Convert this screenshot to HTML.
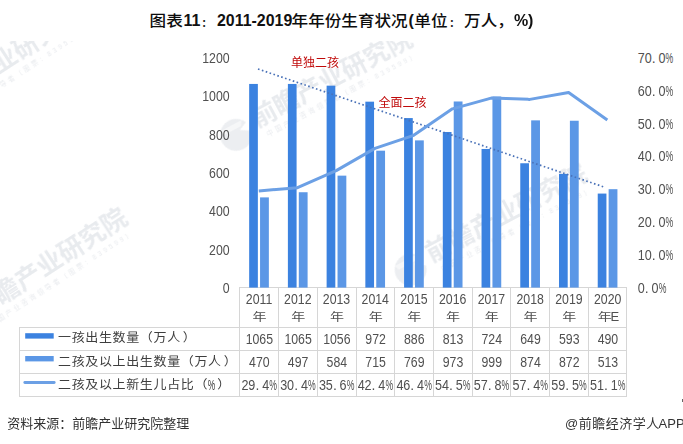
<!DOCTYPE html>
<html><head><meta charset="utf-8"><title>图表11</title>
<style>
html,body{margin:0;padding:0;background:#fff;}
body{width:683px;height:444px;overflow:hidden;}
svg{display:block;}
</style></head><body>
<svg width="683" height="444" viewBox="0 0 683 444">
<defs><clipPath id="wc"><rect x="0" y="41" width="683" height="283"/></clipPath></defs>
<g clip-path="url(#wc)" opacity="0.4"><g transform="translate(-69,118) rotate(-33)"><path d="M-3 -10 A16 16 0 1 0 -2 0 L-12 -6 Z" fill="#C6CCD5" fill-opacity="0.8"/><path d="M-30 -14 L-6 -14 L-9 -9 L-28 -9 Z" fill="#fff" fill-opacity="0.5"/><text x="4" y="0" font-size="25.5" font-weight="bold" font-family="Liberation Sans, Noto Sans CJK SC, sans-serif" fill="#C6CCD5">前瞻产业研究院</text><text x="10" y="12.5" font-size="6.5" letter-spacing="2.9" font-family="Liberation Sans, Noto Sans CJK SC, sans-serif" fill="#C6CCD5">中国产业咨询领导者（股票：839599）</text></g><g transform="translate(-23.8,321.2) rotate(-33)"><path d="M-3 -10 A16 16 0 1 0 -2 0 L-12 -6 Z" fill="#C6CCD5" fill-opacity="0.8"/><path d="M-30 -14 L-6 -14 L-9 -9 L-28 -9 Z" fill="#fff" fill-opacity="0.5"/><text x="4" y="0" font-size="25.5" font-weight="bold" font-family="Liberation Sans, Noto Sans CJK SC, sans-serif" fill="#C6CCD5">前瞻产业研究院</text><text x="10" y="12.5" font-size="6.5" letter-spacing="2.9" font-family="Liberation Sans, Noto Sans CJK SC, sans-serif" fill="#C6CCD5">中国产业咨询领导者（股票：839599）</text></g></g>
<g clip-path="url(#wc)" opacity="0.4"><g transform="translate(253.3,129.7) rotate(-28)"><path d="M-3 -10 A16 16 0 1 0 -2 0 L-12 -6 Z" fill="#C6CCD5" fill-opacity="0.8"/><path d="M-30 -14 L-6 -14 L-9 -9 L-28 -9 Z" fill="#fff" fill-opacity="0.5"/><text x="4" y="0" font-size="25.5" font-weight="bold" font-family="Liberation Sans, Noto Sans CJK SC, sans-serif" fill="#C6CCD5">前瞻产业研究院</text><text x="10" y="12.5" font-size="6.5" letter-spacing="2.9" font-family="Liberation Sans, Noto Sans CJK SC, sans-serif" fill="#C6CCD5">中国产业咨询领导者（股票：839599）</text></g><g transform="translate(427.8,264.4) rotate(-28)"><path d="M-3 -10 A16 16 0 1 0 -2 0 L-12 -6 Z" fill="#C6CCD5" fill-opacity="0.8"/><path d="M-30 -14 L-6 -14 L-9 -9 L-28 -9 Z" fill="#fff" fill-opacity="0.5"/><text x="4" y="0" font-size="25.5" font-weight="bold" font-family="Liberation Sans, Noto Sans CJK SC, sans-serif" fill="#C6CCD5">前瞻产业研究院</text><text x="10" y="12.5" font-size="6.5" letter-spacing="2.9" font-family="Liberation Sans, Noto Sans CJK SC, sans-serif" fill="#C6CCD5">中国产业咨询领导者（股票：839599）</text></g></g>
<g fill="#D6D6D6"><rect x="239" y="287" width="388" height="1"/><rect x="19" y="327" width="608" height="1"/><rect x="19" y="350" width="608" height="1"/><rect x="19" y="373" width="608" height="1"/><rect x="19" y="396" width="608" height="1"/><rect x="239" y="287" width="1" height="110"/><rect x="278" y="287" width="1" height="110"/><rect x="317" y="287" width="1" height="110"/><rect x="356" y="287" width="1" height="110"/><rect x="394" y="287" width="1" height="110"/><rect x="433" y="287" width="1" height="110"/><rect x="472" y="287" width="1" height="110"/><rect x="510" y="287" width="1" height="110"/><rect x="549" y="287" width="1" height="110"/><rect x="588" y="287" width="1" height="110"/><rect x="626" y="287" width="1" height="110"/><rect x="19" y="327" width="1" height="70"/></g>
<rect x="249.16" y="83.94" width="8.7" height="203.66" fill="#3B82E0"/>
<rect x="260.06" y="197.39" width="8.8" height="90.21" fill="#5B97E6"/>
<rect x="287.89" y="83.94" width="8.7" height="203.66" fill="#3B82E0"/>
<rect x="298.80" y="192.24" width="8.8" height="95.36" fill="#5B97E6"/>
<rect x="326.62" y="85.66" width="8.7" height="201.94" fill="#3B82E0"/>
<rect x="337.53" y="175.65" width="8.8" height="111.95" fill="#5B97E6"/>
<rect x="365.35" y="101.67" width="8.7" height="185.93" fill="#3B82E0"/>
<rect x="376.25" y="150.67" width="8.8" height="136.93" fill="#5B97E6"/>
<rect x="404.08" y="118.07" width="8.7" height="169.53" fill="#3B82E0"/>
<rect x="414.99" y="140.38" width="8.8" height="147.22" fill="#5B97E6"/>
<rect x="442.81" y="131.99" width="8.7" height="155.61" fill="#3B82E0"/>
<rect x="453.71" y="101.48" width="8.8" height="186.12" fill="#5B97E6"/>
<rect x="481.54" y="148.96" width="8.7" height="138.64" fill="#3B82E0"/>
<rect x="492.44" y="96.52" width="8.8" height="191.08" fill="#5B97E6"/>
<rect x="520.27" y="163.26" width="8.7" height="124.34" fill="#3B82E0"/>
<rect x="531.17" y="120.36" width="8.8" height="167.24" fill="#5B97E6"/>
<rect x="559.00" y="173.93" width="8.7" height="113.67" fill="#3B82E0"/>
<rect x="569.90" y="120.74" width="8.8" height="166.86" fill="#5B97E6"/>
<rect x="597.73" y="193.57" width="8.7" height="94.03" fill="#3B82E0"/>
<rect x="608.63" y="189.19" width="8.8" height="98.41" fill="#5B97E6"/>
<line x1="258" y1="69" x2="604" y2="187" stroke="#4A72B8" stroke-width="1.7" stroke-dasharray="1.6 2.48"/>
<polyline points="258.76,190.90 297.50,187.64 336.23,170.64 374.95,148.41 413.69,135.34 452.41,108.86 491.14,98.08 529.88,99.38 568.61,92.52 607.33,119.98" fill="none" stroke="#6CA0E5" stroke-width="3" stroke-linejoin="round"/>
<g font-family="Liberation Sans, sans-serif" font-size="12.5" fill="#505050" text-anchor="end">
<text transform="translate(229.60,62.80) scale(0.88,1)" x="0" y="0" text-anchor="end" font-size="14" >1200</text>
<text transform="translate(229.60,101.15) scale(0.88,1)" x="0" y="0" text-anchor="end" font-size="14" >1000</text>
<text transform="translate(229.60,139.50) scale(0.88,1)" x="0" y="0" text-anchor="end" font-size="14" >800</text>
<text transform="translate(229.60,177.85) scale(0.88,1)" x="0" y="0" text-anchor="end" font-size="14" >600</text>
<text transform="translate(229.60,216.20) scale(0.88,1)" x="0" y="0" text-anchor="end" font-size="14" >400</text>
<text transform="translate(229.60,254.55) scale(0.88,1)" x="0" y="0" text-anchor="end" font-size="14" >200</text>
<text transform="translate(229.60,292.90) scale(0.88,1)" x="0" y="0" text-anchor="end" font-size="14" >0</text>
</g>
<g font-family="Liberation Sans, sans-serif" fill="#505050">
<text transform="translate(641.30,62.9) scale(0.9,1)" x="0" y="0" text-anchor="middle" font-size="14">7</text><text transform="translate(648.20,62.9) scale(0.9,1)" x="0" y="0" text-anchor="middle" font-size="14">0</text><text x="653.70" y="62.9" text-anchor="middle" font-size="14">.</text><text transform="translate(662.00,62.9) scale(0.9,1)" x="0" y="0" text-anchor="middle" font-size="14">0</text><text transform="translate(669.40,62.9) scale(0.62,1)" x="0" y="0" text-anchor="middle" font-size="14">%</text>
<text transform="translate(641.30,95.76) scale(0.9,1)" x="0" y="0" text-anchor="middle" font-size="14">6</text><text transform="translate(648.20,95.76) scale(0.9,1)" x="0" y="0" text-anchor="middle" font-size="14">0</text><text x="653.70" y="95.76" text-anchor="middle" font-size="14">.</text><text transform="translate(662.00,95.76) scale(0.9,1)" x="0" y="0" text-anchor="middle" font-size="14">0</text><text transform="translate(669.40,95.76) scale(0.62,1)" x="0" y="0" text-anchor="middle" font-size="14">%</text>
<text transform="translate(641.30,128.62) scale(0.9,1)" x="0" y="0" text-anchor="middle" font-size="14">5</text><text transform="translate(648.20,128.62) scale(0.9,1)" x="0" y="0" text-anchor="middle" font-size="14">0</text><text x="653.70" y="128.62" text-anchor="middle" font-size="14">.</text><text transform="translate(662.00,128.62) scale(0.9,1)" x="0" y="0" text-anchor="middle" font-size="14">0</text><text transform="translate(669.40,128.62) scale(0.62,1)" x="0" y="0" text-anchor="middle" font-size="14">%</text>
<text transform="translate(641.30,161.48) scale(0.9,1)" x="0" y="0" text-anchor="middle" font-size="14">4</text><text transform="translate(648.20,161.48) scale(0.9,1)" x="0" y="0" text-anchor="middle" font-size="14">0</text><text x="653.70" y="161.48" text-anchor="middle" font-size="14">.</text><text transform="translate(662.00,161.48) scale(0.9,1)" x="0" y="0" text-anchor="middle" font-size="14">0</text><text transform="translate(669.40,161.48) scale(0.62,1)" x="0" y="0" text-anchor="middle" font-size="14">%</text>
<text transform="translate(641.30,194.34) scale(0.9,1)" x="0" y="0" text-anchor="middle" font-size="14">3</text><text transform="translate(648.20,194.34) scale(0.9,1)" x="0" y="0" text-anchor="middle" font-size="14">0</text><text x="653.70" y="194.34" text-anchor="middle" font-size="14">.</text><text transform="translate(662.00,194.34) scale(0.9,1)" x="0" y="0" text-anchor="middle" font-size="14">0</text><text transform="translate(669.40,194.34) scale(0.62,1)" x="0" y="0" text-anchor="middle" font-size="14">%</text>
<text transform="translate(641.30,227.2) scale(0.9,1)" x="0" y="0" text-anchor="middle" font-size="14">2</text><text transform="translate(648.20,227.2) scale(0.9,1)" x="0" y="0" text-anchor="middle" font-size="14">0</text><text x="653.70" y="227.2" text-anchor="middle" font-size="14">.</text><text transform="translate(662.00,227.2) scale(0.9,1)" x="0" y="0" text-anchor="middle" font-size="14">0</text><text transform="translate(669.40,227.2) scale(0.62,1)" x="0" y="0" text-anchor="middle" font-size="14">%</text>
<text transform="translate(641.30,260.06) scale(0.9,1)" x="0" y="0" text-anchor="middle" font-size="14">1</text><text transform="translate(648.20,260.06) scale(0.9,1)" x="0" y="0" text-anchor="middle" font-size="14">0</text><text x="653.70" y="260.06" text-anchor="middle" font-size="14">.</text><text transform="translate(662.00,260.06) scale(0.9,1)" x="0" y="0" text-anchor="middle" font-size="14">0</text><text transform="translate(669.40,260.06) scale(0.62,1)" x="0" y="0" text-anchor="middle" font-size="14">%</text>
<text transform="translate(641.30,292.92) scale(0.9,1)" x="0" y="0" text-anchor="middle" font-size="14">0</text><text x="646.80" y="292.92" text-anchor="middle" font-size="14">.</text><text transform="translate(655.10,292.92) scale(0.9,1)" x="0" y="0" text-anchor="middle" font-size="14">0</text><text transform="translate(662.50,292.92) scale(0.62,1)" x="0" y="0" text-anchor="middle" font-size="14">%</text>
</g>
<g font-family="Liberation Sans, Noto Sans CJK SC, sans-serif" font-size="12" fill="#C00A0A">
<text x="291" y="66.6">单独二孩</text>
<text x="378.5" y="106.5">全面二孩</text>
</g>
<g font-family="Liberation Sans, Noto Sans CJK SC, sans-serif" font-size="13" fill="#505050" text-anchor="middle">
<text transform="translate(259.06,304.00) scale(0.88,1)" x="0" y="0" text-anchor="middle" font-size="14" >2011</text>
<text transform="translate(259.46,320.9) scale(1.08,0.9)" x="0" y="0">年</text>
<text transform="translate(297.80,304.00) scale(0.88,1)" x="0" y="0" text-anchor="middle" font-size="14" >2012</text>
<text transform="translate(298.19,320.9) scale(1.08,0.9)" x="0" y="0">年</text>
<text transform="translate(336.53,304.00) scale(0.88,1)" x="0" y="0" text-anchor="middle" font-size="14" >2013</text>
<text transform="translate(336.93,320.9) scale(1.08,0.9)" x="0" y="0">年</text>
<text transform="translate(375.25,304.00) scale(0.88,1)" x="0" y="0" text-anchor="middle" font-size="14" >2014</text>
<text transform="translate(375.65,320.9) scale(1.08,0.9)" x="0" y="0">年</text>
<text transform="translate(413.99,304.00) scale(0.88,1)" x="0" y="0" text-anchor="middle" font-size="14" >2015</text>
<text transform="translate(414.38,320.9) scale(1.08,0.9)" x="0" y="0">年</text>
<text transform="translate(452.71,304.00) scale(0.88,1)" x="0" y="0" text-anchor="middle" font-size="14" >2016</text>
<text transform="translate(453.11,320.9) scale(1.08,0.9)" x="0" y="0">年</text>
<text transform="translate(491.44,304.00) scale(0.88,1)" x="0" y="0" text-anchor="middle" font-size="14" >2017</text>
<text transform="translate(491.84,320.9) scale(1.08,0.9)" x="0" y="0">年</text>
<text transform="translate(530.17,304.00) scale(0.88,1)" x="0" y="0" text-anchor="middle" font-size="14" >2018</text>
<text transform="translate(530.58,320.9) scale(1.08,0.9)" x="0" y="0">年</text>
<text transform="translate(568.90,304.00) scale(0.88,1)" x="0" y="0" text-anchor="middle" font-size="14" >2019</text>
<text transform="translate(569.31,320.9) scale(1.08,0.9)" x="0" y="0">年</text>
<text transform="translate(607.63,304.00) scale(0.88,1)" x="0" y="0" text-anchor="middle" font-size="14" >2020</text>
<text transform="translate(604.83,320.9) scale(1.08,0.9)" x="0" y="0">年</text>
<text x="614.73" y="321.4" font-family="Liberation Sans, sans-serif">E</text>
<text transform="translate(259.37,344.20) scale(0.88,1)" x="0" y="0" text-anchor="middle" font-size="14" >1065</text>
<text transform="translate(259.37,366.90) scale(0.88,1)" x="0" y="0" text-anchor="middle" font-size="14" >470</text>
<text transform="translate(298.10,344.20) scale(0.88,1)" x="0" y="0" text-anchor="middle" font-size="14" >1065</text>
<text transform="translate(298.10,366.90) scale(0.88,1)" x="0" y="0" text-anchor="middle" font-size="14" >497</text>
<text transform="translate(336.83,344.20) scale(0.88,1)" x="0" y="0" text-anchor="middle" font-size="14" >1056</text>
<text transform="translate(336.83,366.90) scale(0.88,1)" x="0" y="0" text-anchor="middle" font-size="14" >584</text>
<text transform="translate(375.56,344.20) scale(0.88,1)" x="0" y="0" text-anchor="middle" font-size="14" >972</text>
<text transform="translate(375.56,366.90) scale(0.88,1)" x="0" y="0" text-anchor="middle" font-size="14" >715</text>
<text transform="translate(414.29,344.20) scale(0.88,1)" x="0" y="0" text-anchor="middle" font-size="14" >886</text>
<text transform="translate(414.29,366.90) scale(0.88,1)" x="0" y="0" text-anchor="middle" font-size="14" >769</text>
<text transform="translate(453.01,344.20) scale(0.88,1)" x="0" y="0" text-anchor="middle" font-size="14" >813</text>
<text transform="translate(453.01,366.90) scale(0.88,1)" x="0" y="0" text-anchor="middle" font-size="14" >973</text>
<text transform="translate(491.75,344.20) scale(0.88,1)" x="0" y="0" text-anchor="middle" font-size="14" >724</text>
<text transform="translate(491.75,366.90) scale(0.88,1)" x="0" y="0" text-anchor="middle" font-size="14" >999</text>
<text transform="translate(530.48,344.20) scale(0.88,1)" x="0" y="0" text-anchor="middle" font-size="14" >649</text>
<text transform="translate(530.48,366.90) scale(0.88,1)" x="0" y="0" text-anchor="middle" font-size="14" >874</text>
<text transform="translate(569.21,344.20) scale(0.88,1)" x="0" y="0" text-anchor="middle" font-size="14" >593</text>
<text transform="translate(569.21,366.90) scale(0.88,1)" x="0" y="0" text-anchor="middle" font-size="14" >872</text>
<text transform="translate(607.93,344.20) scale(0.88,1)" x="0" y="0" text-anchor="middle" font-size="14" >490</text>
<text transform="translate(607.93,366.90) scale(0.88,1)" x="0" y="0" text-anchor="middle" font-size="14" >513</text>
</g>
<g font-family="Liberation Sans, sans-serif" fill="#505050">
<text transform="translate(244.96,390.0) scale(0.9,1)" x="0" y="0" text-anchor="middle" font-size="14">2</text><text transform="translate(251.86,390.0) scale(0.9,1)" x="0" y="0" text-anchor="middle" font-size="14">9</text><text x="257.37" y="390.0" text-anchor="middle" font-size="14">.</text><text transform="translate(265.66,390.0) scale(0.9,1)" x="0" y="0" text-anchor="middle" font-size="14">4</text><text transform="translate(273.06,390.0) scale(0.62,1)" x="0" y="0" text-anchor="middle" font-size="14">%</text>
<text transform="translate(283.69,390.0) scale(0.9,1)" x="0" y="0" text-anchor="middle" font-size="14">3</text><text transform="translate(290.59,390.0) scale(0.9,1)" x="0" y="0" text-anchor="middle" font-size="14">0</text><text x="296.10" y="390.0" text-anchor="middle" font-size="14">.</text><text transform="translate(304.39,390.0) scale(0.9,1)" x="0" y="0" text-anchor="middle" font-size="14">4</text><text transform="translate(311.80,390.0) scale(0.62,1)" x="0" y="0" text-anchor="middle" font-size="14">%</text>
<text transform="translate(322.43,390.0) scale(0.9,1)" x="0" y="0" text-anchor="middle" font-size="14">3</text><text transform="translate(329.32,390.0) scale(0.9,1)" x="0" y="0" text-anchor="middle" font-size="14">5</text><text x="334.83" y="390.0" text-anchor="middle" font-size="14">.</text><text transform="translate(343.12,390.0) scale(0.9,1)" x="0" y="0" text-anchor="middle" font-size="14">6</text><text transform="translate(350.53,390.0) scale(0.62,1)" x="0" y="0" text-anchor="middle" font-size="14">%</text>
<text transform="translate(361.15,390.0) scale(0.9,1)" x="0" y="0" text-anchor="middle" font-size="14">4</text><text transform="translate(368.05,390.0) scale(0.9,1)" x="0" y="0" text-anchor="middle" font-size="14">2</text><text x="373.56" y="390.0" text-anchor="middle" font-size="14">.</text><text transform="translate(381.85,390.0) scale(0.9,1)" x="0" y="0" text-anchor="middle" font-size="14">4</text><text transform="translate(389.25,390.0) scale(0.62,1)" x="0" y="0" text-anchor="middle" font-size="14">%</text>
<text transform="translate(399.88,390.0) scale(0.9,1)" x="0" y="0" text-anchor="middle" font-size="14">4</text><text transform="translate(406.78,390.0) scale(0.9,1)" x="0" y="0" text-anchor="middle" font-size="14">6</text><text x="412.29" y="390.0" text-anchor="middle" font-size="14">.</text><text transform="translate(420.58,390.0) scale(0.9,1)" x="0" y="0" text-anchor="middle" font-size="14">4</text><text transform="translate(427.99,390.0) scale(0.62,1)" x="0" y="0" text-anchor="middle" font-size="14">%</text>
<text transform="translate(438.61,390.0) scale(0.9,1)" x="0" y="0" text-anchor="middle" font-size="14">5</text><text transform="translate(445.51,390.0) scale(0.9,1)" x="0" y="0" text-anchor="middle" font-size="14">4</text><text x="451.01" y="390.0" text-anchor="middle" font-size="14">.</text><text transform="translate(459.31,390.0) scale(0.9,1)" x="0" y="0" text-anchor="middle" font-size="14">5</text><text transform="translate(466.71,390.0) scale(0.62,1)" x="0" y="0" text-anchor="middle" font-size="14">%</text>
<text transform="translate(477.34,390.0) scale(0.9,1)" x="0" y="0" text-anchor="middle" font-size="14">5</text><text transform="translate(484.24,390.0) scale(0.9,1)" x="0" y="0" text-anchor="middle" font-size="14">7</text><text x="489.75" y="390.0" text-anchor="middle" font-size="14">.</text><text transform="translate(498.04,390.0) scale(0.9,1)" x="0" y="0" text-anchor="middle" font-size="14">8</text><text transform="translate(505.44,390.0) scale(0.62,1)" x="0" y="0" text-anchor="middle" font-size="14">%</text>
<text transform="translate(516.08,390.0) scale(0.9,1)" x="0" y="0" text-anchor="middle" font-size="14">5</text><text transform="translate(522.98,390.0) scale(0.9,1)" x="0" y="0" text-anchor="middle" font-size="14">7</text><text x="528.48" y="390.0" text-anchor="middle" font-size="14">.</text><text transform="translate(536.78,390.0) scale(0.9,1)" x="0" y="0" text-anchor="middle" font-size="14">4</text><text transform="translate(544.18,390.0) scale(0.62,1)" x="0" y="0" text-anchor="middle" font-size="14">%</text>
<text transform="translate(554.81,390.0) scale(0.9,1)" x="0" y="0" text-anchor="middle" font-size="14">5</text><text transform="translate(561.71,390.0) scale(0.9,1)" x="0" y="0" text-anchor="middle" font-size="14">9</text><text x="567.21" y="390.0" text-anchor="middle" font-size="14">.</text><text transform="translate(575.51,390.0) scale(0.9,1)" x="0" y="0" text-anchor="middle" font-size="14">5</text><text transform="translate(582.91,390.0) scale(0.62,1)" x="0" y="0" text-anchor="middle" font-size="14">%</text>
<text transform="translate(593.53,390.0) scale(0.9,1)" x="0" y="0" text-anchor="middle" font-size="14">5</text><text transform="translate(600.43,390.0) scale(0.9,1)" x="0" y="0" text-anchor="middle" font-size="14">1</text><text x="605.93" y="390.0" text-anchor="middle" font-size="14">.</text><text transform="translate(614.24,390.0) scale(0.9,1)" x="0" y="0" text-anchor="middle" font-size="14">1</text><text transform="translate(621.63,390.0) scale(0.62,1)" x="0" y="0" text-anchor="middle" font-size="14">%</text>
</g>
<rect x="25.2" y="333.2" width="28.5" height="5.4" fill="#3B82E0"/>
<rect x="25.2" y="356" width="28.5" height="5.4" fill="#5B97E6"/>
<line x1="24.8" y1="382.5" x2="54.2" y2="382.5" stroke="#6CA0E5" stroke-width="2.8" stroke-linecap="round"/>
<g font-family="Liberation Sans, Noto Sans CJK SC, sans-serif" font-size="13" letter-spacing="0.65" fill="#3e3e3e">
<text transform="translate(58,341.7) scale(1,0.92)" x="0" y="0">一孩出生数量（万人<tspan dx="2">）</tspan></text>
<text transform="translate(58,365.7) scale(1,0.92)" x="0" y="0">二孩及以上出生数量（万人<tspan dx="2">）</tspan></text>
<text transform="translate(58,388.7) scale(1,0.92)" x="0" y="0">二孩及以上新生儿占比（</text>
<text transform="translate(217.3,388.7) scale(1,0.92)" x="0" y="0" letter-spacing="0">）</text>
<text transform="translate(211.6,389.6) scale(0.6,1)" x="0" y="0" text-anchor="middle" font-size="14" letter-spacing="0">%</text>
</g>
<text font-family="Liberation Sans, Noto Sans CJK SC, sans-serif" font-size="16.6" font-weight="500" fill="#0d0d0d" transform="translate(149.6,26.4) scale(1,0.92)" x="0" y="0">图表</text>
<text font-family="Liberation Sans, sans-serif" font-size="16" font-weight="bold" fill="#111" x="183.6" y="26.4">11</text>
<text font-family="Liberation Sans, Noto Sans CJK SC, sans-serif" font-size="10.5" font-weight="bold" fill="#222" x="201.6" y="26.6">：</text>
<text font-family="Liberation Sans, sans-serif" font-size="16" font-weight="bold" fill="#111" x="217" y="26.4" textLength="75.3" lengthAdjust="spacingAndGlyphs">2011-2019</text>
<text font-family="Liberation Sans, Noto Sans CJK SC, sans-serif" font-size="16.6" font-weight="500" fill="#0d0d0d" transform="translate(291.6,26.4) scale(1,0.92)" x="0" y="0">年年份生育状况</text>
<text font-family="Liberation Sans, sans-serif" font-size="16" font-weight="bold" fill="#111" x="408.6" y="26.4">(</text>
<text font-family="Liberation Sans, Noto Sans CJK SC, sans-serif" font-size="16.6" font-weight="500" fill="#0d0d0d" transform="translate(414.3,26.4) scale(1,0.92)" x="0" y="0">单位</text>
<text font-family="Liberation Sans, Noto Sans CJK SC, sans-serif" font-size="10.5" font-weight="bold" fill="#222" x="449.2" y="26.6">：</text>
<text font-family="Liberation Sans, Noto Sans CJK SC, sans-serif" font-size="16.6" font-weight="500" fill="#0d0d0d" transform="translate(464.1,26.4) scale(1,0.92)" x="0" y="0">万人，</text>
<text font-family="Liberation Sans, sans-serif" font-size="16" font-weight="bold" fill="#111" x="513.9" y="26.4">%)</text>
<rect x="682" y="399" width="1" height="3" fill="#666"/>
<text x="7.3" y="428.1" font-family="Liberation Sans, Noto Sans CJK SC, sans-serif" font-size="13" fill="#333">资料来源：前瞻产业研究院整理</text>
<text y="427.6" font-family="Liberation Sans, Noto Sans CJK SC, sans-serif" font-size="13" fill="#333"><tspan x="565" letter-spacing="0.5">@前瞻经济学人</tspan><tspan x="658.6">APP</tspan></text>
</svg>
</body></html>
